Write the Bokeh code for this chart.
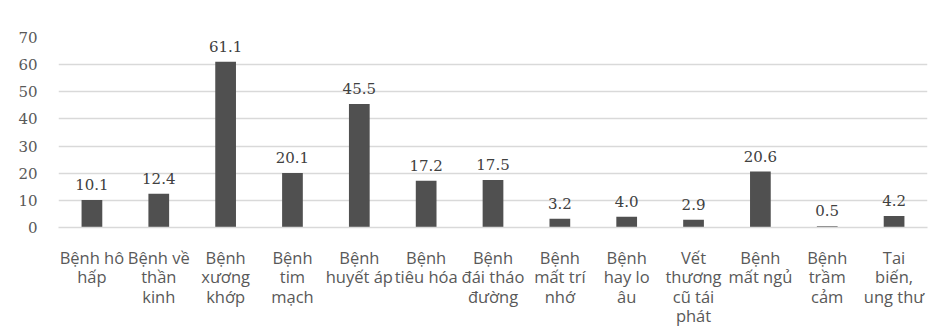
from bokeh.plotting import figure
from bokeh.models import FactorRange, Range1d, ColumnDataSource, LabelSet, FixedTicker
from bokeh.core.properties import value
from bokeh.embed import file_html
from bokeh.resources import INLINE

categories = [
    "Bệnh hô\nhấp",
    "Bệnh về\nthần\nkinh",
    "Bệnh\nxương\nkhớp",
    "Bệnh\ntim\nmạch",
    "Bệnh\nhuyết áp",
    "Bệnh\ntiêu hóa",
    "Bệnh\nđái tháo\nđường",
    "Bệnh\nmất trí\nnhớ",
    "Bệnh\nhay lo\nâu",
    "Vết\nthương\ncũ tái\nphát",
    "Bệnh\nmất ngủ",
    "Bệnh\ntrầm\ncảm",
    "Tai\nbiến,\nung thư",
]
values = [10.1, 12.4, 61.1, 20.1, 45.5, 17.2, 17.5, 3.2, 4.0, 2.9, 20.6, 0.5, 4.2]
labels = ["%.1f" % v for v in values]
y_ticks = [0, 10, 20, 30, 40, 50, 60, 70]

SERIF = "DejaVu Serif"

source = ColumnDataSource(data=dict(cat=categories, val=values, lab=labels))

p = figure(
    x_range=FactorRange(*categories, range_padding=0.0),
    y_range=Range1d(0, 70),
    width=938, height=336,
    output_backend="svg", toolbar_location=None,
    min_border_left=58, min_border_right=11, min_border_top=37, min_border_bottom=109,
)

p.vbar(x="cat", top="val", width=0.31, source=source, color="#505050", line_color=None)

lbl = LabelSet(x="cat", y="val", text="lab", source=source, text_align="center",
               text_baseline="bottom", y_offset=10, text_font=value(SERIF),
               text_font_size=value("15px"), text_color="#404040")
p.add_layout(lbl)

p.outline_line_color = None
p.xgrid.grid_line_color = None
p.ygrid.grid_line_color = "#d9d9d9"
p.ygrid.grid_line_width = 1.3
p.yaxis.ticker = FixedTicker(ticks=y_ticks)
p.yaxis.axis_line_color = None
p.yaxis.major_tick_line_color = None
p.yaxis.minor_tick_line_color = None
p.yaxis.major_label_text_font = SERIF
p.yaxis.major_label_text_font_size = "15px"
p.yaxis.major_label_text_color = "#595959"
p.yaxis.major_label_standoff = 15

p.xaxis.axis_line_color = "#d9d9d9"
p.xaxis.axis_line_width = 1.3
p.xaxis.major_tick_line_color = None
p.xaxis.minor_tick_line_color = None
p.xaxis.major_label_text_font = "Open Sans"
p.xaxis.major_label_text_font_size = "16.5px"
p.xaxis.major_label_text_color = "#595959"
p.xaxis.major_label_standoff = 12
p.xaxis.major_label_text_line_height = 0.85

open("out.html", "w").write(file_html(p, INLINE))
